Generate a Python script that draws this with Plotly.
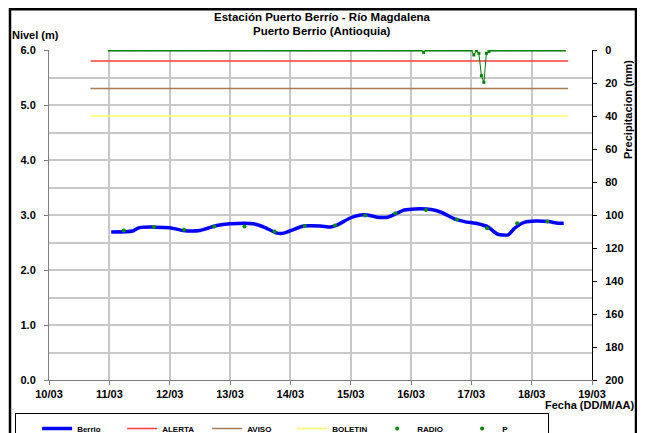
import plotly.graph_objects as go
import pandas as pd

# Nivel del río Berrio (m)
berrio_fecha = [
    "2011-03-11 00:45", "2011-03-11 09:20", "2011-03-11 12:00", "2011-03-12 00:00",
    "2011-03-12 05:15", "2011-03-12 12:00", "2011-03-12 18:45", "2011-03-13 00:00",
    "2011-03-13 09:20", "2011-03-13 13:30", "2011-03-13 18:45", "2011-03-13 21:20",
    "2011-03-14 01:30", "2011-03-14 05:15", "2011-03-14 12:00", "2011-03-14 16:00",
    "2011-03-14 18:45", "2011-03-15 00:00", "2011-03-15 04:00", "2011-03-15 06:45",
    "2011-03-15 10:30", "2011-03-15 14:40", "2011-03-15 18:45", "2011-03-15 21:20",
    "2011-03-16 01:30", "2011-03-16 08:00", "2011-03-16 12:00", "2011-03-16 17:15",
    "2011-03-16 21:20", "2011-03-17 02:40", "2011-03-17 06:45", "2011-03-17 10:30",
    "2011-03-17 14:40", "2011-03-17 17:15", "2011-03-17 21:20", "2011-03-18 01:30",
    "2011-03-18 06:45", "2011-03-18 10:30", "2011-03-18 12:45",
]
berrio_nivel = [
    2.69, 2.71, 2.77, 2.77, 2.72, 2.72, 2.81, 2.84,
    2.84, 2.78, 2.67, 2.67, 2.74, 2.80, 2.80, 2.78,
    2.82, 2.95, 3.00, 3.00, 2.96, 2.96, 3.04, 3.09,
    3.11, 3.10, 3.05, 2.93, 2.88, 2.84, 2.78, 2.65,
    2.64, 2.76, 2.87, 2.89, 2.88, 2.85, 2.85,
]

# Lecturas RADIO (m)
radio_fecha = [
    "2011-03-11 05:45", "2011-03-11 17:45", "2011-03-12 05:45", "2011-03-12 17:45",
    "2011-03-13 05:45", "2011-03-13 17:45", "2011-03-14 05:45", "2011-03-14 17:45",
    "2011-03-15 05:45", "2011-03-15 17:45", "2011-03-16 06:00", "2011-03-16 18:15",
    "2011-03-17 06:15", "2011-03-17 18:15", "2011-03-18 06:15",
]
radio_nivel = [
    2.72, 2.78, 2.73, 2.79, 2.79, 2.70, 2.80, 2.81,
    2.99, 3.03, 3.09, 2.92, 2.76, 2.85, 2.88,
]

# Umbrales (m)
umbral_fecha = ["2011-03-10 16:30", "2011-03-18 14:30"]
alerta = [5.8, 5.8]
aviso = [5.3, 5.3]
boletin = [4.8, 4.8]

# Precipitación horaria (mm): cero salvo las horas con lluvia
p_inicio = "2011-03-11 00:00"
p_horas = 182
p_lluvia = {
    "2011-03-16 05:00": 1.4,
    "2011-03-17 01:00": 3.0,
    "2011-03-17 02:00": 0.5,
    "2011-03-17 03:00": 2.0,
    "2011-03-17 04:00": 15.6,
    "2011-03-17 05:00": 19.6,
    "2011-03-17 06:00": 2.0,
    "2011-03-17 07:00": 1.0,
}

p_fecha = pd.date_range(p_inicio, periods=p_horas, freq="h")
p_mm = [p_lluvia.get(t.strftime("%Y-%m-%d %H:%M"), 0.0) for t in p_fecha]

fuente = "Liberation Sans, Arial, sans-serif"
rejilla = "#c8c8c8"

# La página deja 8 px de margen en el body: la figura es 8 px más pequeña
OFF = 8
W, H = 645 - OFF, 433 - OFF
# área del gráfico en pixeles de la captura
L, R, T, B = 49, 592, 50, 380
def px(x):
    return (x - L) / (R - L)
def py(y):
    return (B - y) / (B - T)

fig = go.Figure()

fig.add_trace(go.Scatter(
    x=p_fecha, y=p_mm, mode="lines+markers", yaxis="y2",
    line=dict(color="#008000", width=1),
    marker=dict(color="#008000", size=3, symbol="square"),
    showlegend=False,
))
fig.add_trace(go.Scatter(
    x=umbral_fecha, y=alerta, mode="lines", name="ALERTA",
    line=dict(color="#ff3b3b", width=1.5),
))
fig.add_trace(go.Scatter(
    x=umbral_fecha, y=aviso, mode="lines", name="AVISO",
    line=dict(color="#a67c52", width=1.5),
))
fig.add_trace(go.Scatter(
    x=umbral_fecha, y=boletin, mode="lines", name="BOLETIN",
    line=dict(color="#ffff66", width=1.5),
))
fig.add_trace(go.Scatter(
    x=berrio_fecha, y=berrio_nivel, mode="lines", name="Berrio",
    line=dict(color="#0000ff", width=3.5, shape="spline", smoothing=0.6),
))
fig.add_trace(go.Scatter(
    x=radio_fecha, y=radio_nivel, mode="markers", name="RADIO",
    marker=dict(color="#009000", size=4),
))
# entrada de leyenda para P (solo el punto)
fig.add_trace(go.Scatter(
    x=[None], y=[None], mode="markers", name="P",
    marker=dict(color="#008000", size=4),
))

# orden de la leyenda como en el original
orden = {"Berrio": 1, "ALERTA": 2, "AVISO": 3, "BOLETIN": 4, "RADIO": 5, "P": 6}
for tr in fig.data:
    if tr.name in orden:
        tr.legendrank = orden[tr.name]

fig.update_layout(
    width=W, height=H,
    margin=dict(l=L - OFF, r=645 - R, t=T - OFF, b=433 - B),
    paper_bgcolor="white", plot_bgcolor="white",
    font=dict(family=fuente, size=11, color="black", weight="bold"),
    xaxis=dict(
        type="date", range=["2011-03-10", "2011-03-19"],
        dtick=86400000, tickformat="%d/%m",
        showgrid=True, gridcolor=rejilla, gridwidth=1.5,
        showline=True, linecolor="#808080", linewidth=1,
        ticks="outside", ticklen=4, tickcolor="#808080",
        tickfont=dict(size=11, weight="bold"), zeroline=False,
    ),
    yaxis=dict(
        range=[0, 6], dtick=1, tickformat=".1f",
        showgrid=True, gridcolor=rejilla, gridwidth=1.5,
        minor=dict(dtick=0.5, showgrid=True, gridcolor=rejilla, gridwidth=1.5),
        showline=True, linecolor="#808080", linewidth=1,
        ticks="outside", ticklen=4, tickcolor="#808080",
        ticklabelstandoff=6,
        tickfont=dict(size=11, weight="bold"), zeroline=False,
    ),
    yaxis2=dict(
        range=[200, 0], dtick=20, overlaying="y", side="right",
        showgrid=False, zeroline=False,
        showline=True, linecolor="black", linewidth=1,
        ticks="outside", ticklen=4, tickcolor="black",
        ticklabelstandoff=6,
        tickfont=dict(size=11, weight="bold"),
    ),
    legend=dict(
        orientation="h", xref="container", yref="container",
        x=(15 - OFF) / W, y=1 - (413 - OFF) / H, xanchor="left", yanchor="top",
        bordercolor="black", borderwidth=1, bgcolor="white",
        font=dict(size=8, weight="bold"),
        title=dict(text="&nbsp;" * 5, side="left", font=dict(size=8)),
        entrywidth=40, entrywidthmode="pixels", traceorder="normal",
    ),
    showlegend=True,
)

# título en dos líneas
fig.add_annotation(
    text="Estación Puerto Berrío - Río Magdalena", xref="paper", yref="paper",
    x=px(322), y=py(17), xanchor="center", yanchor="middle", showarrow=False,
    font=dict(size=11.5, weight="bold"),
)
fig.add_annotation(
    text="Puerto Berrio (Antioquia)", xref="paper", yref="paper",
    x=px(322), y=py(31), xanchor="center", yanchor="middle", showarrow=False,
    font=dict(size=11.5, weight="bold"),
)
fig.add_annotation(
    text="Nivel (m)", xref="paper", yref="paper", x=px(10), y=py(35),
    xanchor="left", yanchor="middle", showarrow=False,
    font=dict(size=11, weight="bold"),
)
fig.add_annotation(
    text="Fecha (DD/M/AA)", xref="paper", yref="paper", x=px(590), y=py(405),
    xanchor="center", yanchor="middle", showarrow=False,
    font=dict(size=11, weight="bold"),
)
fig.add_annotation(
    text="Precipitacion (mm)", xref="paper", yref="paper", x=px(628), y=py(110),
    xanchor="center", yanchor="middle", showarrow=False, textangle=-90,
    font=dict(size=11, weight="bold"),
)

# marco exterior (el borde superior queda lo más arriba posible)
fig.add_shape(
    type="rect", xref="paper", yref="paper",
    x0=px(10), x1=px(636), y0=py(445), y1=py(9.3),
    line=dict(color="black", width=2.5), layer="below",
)

fig.write_html("out.html")
